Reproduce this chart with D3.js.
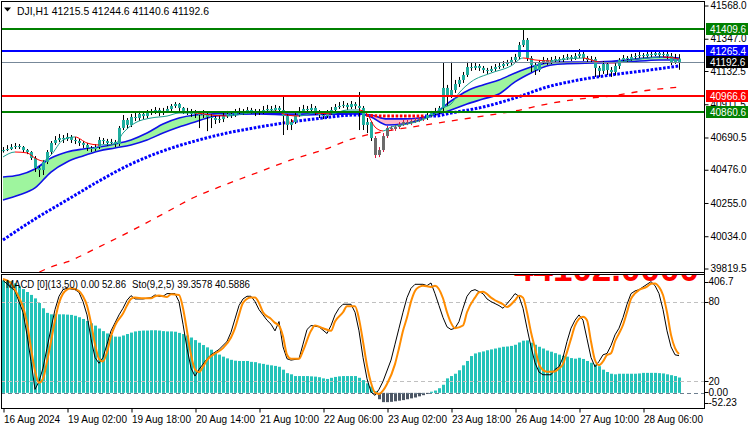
<!DOCTYPE html>
<html><head><meta charset="utf-8">
<script src="https://cdn.jsdelivr.net/npm/d3@7"></script>
<style>
body{margin:0;background:#fff;}
svg{display:block;font-family:"Liberation Sans",Arial,sans-serif;}
</style></head><body>
<svg id="chart" width="750" height="430"></svg>
<script>
// ---------------- DATA ----------------
const symbolTitle = "DJI,H1  41215.5 41244.6 41140.6 41192.6";
const macdLegend = "MACD [0](13,50) 0.00 52.86";
const stochLegend = "Sto(9,2,5) 39.3578 40.5886";
const timeLabels = ["16 Aug 2024","19 Aug 02:00","19 Aug 18:00","20 Aug 14:00","21 Aug 10:00","22 Aug 06:00","23 Aug 02:00","23 Aug 18:00","26 Aug 14:00","27 Aug 10:00","28 Aug 06:00"];
const timeTickBars = [0,16,32,48,64,80,96,112,128,144,160];
const priceTicks = [41568.0,41347.0,41132.5,40911.5,40690.5,40476.0,40255.0,40034.0,39819.5];
const levelValues = [41409.6, 41265.4, 40966.6, 40860.6];
const bidPrice = 41192.6;
const macdRange = [-52.23, 406.7];
const stochLevels = [80, 20];
const bigLabel = "44102.0000";

const opens = [40600,40607,40614,40627,40634,40627,40607,40594,40554,40488,
40474,40528,40594,40654,40674,40687,40681,40694,40674,40667,
40654,40641,40621,40614,40627,40674,40667,40654,40661,40647,
40754,40807,40774,40827,40820,40847,40833,40853,40860,40873,
40853,40867,40880,40900,40913,40887,40867,40860,40847,40853,
40840,40847,40827,40820,40807,40813,40833,40847,40840,40853,
40867,40860,40873,40867,40853,40860,40873,40880,40873,40887,
40873,40833,40774,40793,40840,40867,40880,40873,40887,40860,
40840,40833,40853,40873,40893,40900,40907,40893,40913,40900,
40887,40774,40793,40687,40574,40607,40700,40754,40747,40760,
40780,40793,40787,40800,40807,40813,40820,40840,40853,40867,
40887,41020,40973,41006,41046,41073,41106,41159,41153,41166,
41153,41139,41133,41146,41159,41166,41179,41186,41206,41226,
41305,41339,41219,41173,41139,41192,41206,41192,41206,41212,
41206,41219,41226,41219,41232,41246,41219,41206,41212,41153,
41133,41179,41139,41126,41166,41206,41219,41212,41226,41232,
41239,41232,41246,41239,41252,41239,41246,41232,41192,41215.5];
const highs = [40627,40640,40647,40654,40647,40634,40614,40600,40567,40500,
40541,40607,40667,40700,40714,40707,40720,40707,40694,40681,
40667,40654,40634,40647,40694,40687,40681,40681,40674,40767,
40840,40820,40847,40860,40867,40860,40873,40880,40893,40887,
40887,40900,40913,40926,40920,40893,40887,40880,40873,40867,
40873,40860,40847,40833,40840,40853,40867,40860,40880,40887,
40880,40893,40887,40880,40880,40900,40907,40900,40907,40900,
40960,40847,40813,40860,40893,40907,40900,40913,40900,40873,
40860,40873,40893,40913,40926,40933,40920,40933,40926,40993,
40900,40820,40800,40700,40627,40720,40767,40767,40773,40793,
40807,40807,40813,40820,40827,40833,40853,40867,40887,40900,
41186,41040,41193,41073,41093,41126,41193,41186,41186,41179,
41166,41153,41166,41179,41186,41199,41206,41226,41246,41325,
41405,41352,41232,41186,41206,41226,41219,41226,41232,41226,
41239,41246,41239,41252,41279,41259,41232,41232,41226,41166,
41199,41192,41159,41186,41219,41239,41232,41246,41252,41259,
41252,41266,41259,41272,41266,41266,41259,41252,41246,41244.6];
const lows = [40590,40600,40607,40614,40614,40594,40580,40541,40461,40428,
40441,40514,40580,40641,40661,40654,40667,40654,40647,40634,
40621,40601,40594,40601,40614,40647,40634,40641,40627,40634,
40740,40747,40760,40800,40800,40813,40820,40840,40847,40833,
40840,40853,40867,40887,40867,40847,40840,40827,40820,40753,
40820,40733,40753,40780,40787,40793,40820,40820,40827,40840,
40840,40847,40847,40833,40840,40847,40860,40853,40860,40853,
40707,40740,40740,40780,40827,40853,40853,40860,40840,40820,
40813,40820,40840,40860,40880,40887,40873,40880,40880,40740,
40740,40720,40667,40554,40560,40594,40687,40734,40734,40747,
40767,40773,40773,40787,40793,40800,40807,40827,40840,40847,
40853,40900,40953,40987,41026,41053,41093,41133,41139,41133,
41119,41113,41126,41133,41146,41153,41166,41173,41193,41212,
41292,41199,41126,41106,41126,41179,41173,41179,41192,41186,
41192,41206,41199,41206,41219,41199,41186,41192,41093,41093,
41113,41106,41093,41106,41146,41192,41192,41199,41212,41219,
41212,41219,41219,41232,41219,41226,41212,41172,41180,41140.6];
const closes = [40607,40614,40627,40634,40627,40607,40594,40554,40488,40474,
40528,40594,40654,40674,40687,40681,40694,40674,40667,40654,
40641,40621,40614,40627,40674,40667,40654,40661,40647,40754,
40807,40774,40827,40820,40847,40833,40853,40860,40873,40853,
40867,40880,40900,40913,40887,40867,40860,40847,40853,40840,
40847,40827,40820,40807,40813,40833,40847,40840,40853,40867,
40860,40873,40867,40853,40860,40873,40880,40873,40887,40873,
40833,40774,40793,40840,40867,40880,40873,40887,40860,40840,
40833,40853,40873,40893,40900,40907,40893,40913,40900,40887,
40774,40793,40687,40574,40607,40700,40754,40747,40760,40780,
40793,40787,40800,40807,40813,40820,40840,40853,40867,40887,
41020,40973,41006,41046,41073,41106,41159,41153,41166,41153,
41139,41133,41146,41159,41166,41179,41186,41206,41226,41305,
41339,41219,41173,41139,41192,41206,41192,41206,41212,41206,
41219,41226,41219,41232,41246,41219,41206,41212,41153,41133,
41179,41139,41126,41166,41206,41219,41212,41226,41232,41239,
41232,41246,41239,41252,41239,41246,41232,41192,41215.5,41192.6];
// bars painted grey by the trend filter
const greyBarsFrom = 93, greyBarsTo = 105;

// cloud (two averages) read at sample bars
const cloudIdx  = [0,4,8,12,16,20,24,28,32,36,40,44,48,52,56,64,72,80,88,92,96,100,104,108,112,116,120,124,128,132,136,140,148,156,164,169];
const cloudFast = [40428,40441,40481,40554,40594,40614,40627,40647,40674,40720,40780,40820,40840,40847,40853,40853,40847,40850,40853,40827,40774,40780,40807,40853,40933,41000,41040,41073,41119,41159,41186,41192,41192,41206,41226,41219];
const cloudSlow = [40275,40308,40355,40461,40528,40568,40601,40621,40641,40674,40720,40760,40794,40827,40840,40847,40840,40843,40847,40840,40814,40814,40820,40840,40873,40913,40946,40980,41060,41119,41166,41179,41186,41192,41206,41206];
// short moving average
const maFastIdx = [0,3,6,8,10,12,15,18,21,24,28,30,33,37,41,44,48,52,56,60,64,68,71,74,78,82,86,89,91,93,95,97,100,104,108,110,112,114,117,122,127,130,133,137,141,145,149,153,157,161,165,169];
const maFast    = [40561,40594,40588,40554,40534,40574,40674,40694,40654,40641,40647,40720,40787,40820,40833,40853,40853,40840,40833,40847,40860,40867,40840,40833,40853,40847,40873,40873,40847,40760,40734,40760,40774,40800,40847,40887,40913,40986,41060,41119,41166,41219,41206,41199,41212,41219,41192,41186,41206,41219,41226,41212];
// dotted moving average
const maDotIdx = [0,8,16,24,32,40,48,56,64,72,80,88,96,104,108,112,120,128,136,144,152,160,169];
const maDot    = [40009,40149,40275,40401,40514,40601,40667,40720,40760,40794,40820,40840,40833,40833,40833,40853,40893,40953,41026,41073,41106,41133,41166];
// dash-dot long moving average
const maDashIdx = [0,8,12,16,24,32,40,48,56,64,72,80,88,96,104,112,120,128,136,144,152,160,169];
const maDash    = [39703,39783,39830,39863,39963,40069,40182,40295,40381,40461,40541,40607,40687,40734,40767,40800,40833,40867,40913,40946,40966,41000,41026];

// MACD histogram, one per bar
const macdHist = [388,388,385,378,368,358,348,338,326,310,
292,276,271,271,271,271,270,269,266,261,
255,248,240,232,222,213,205,199,194,194,
198,203,208,212,214,215,215,216,216,215,
213,212,212,211,207,203,198,191,182,173,
165,157,149,140,132,125,119,114,111,110,
110,110,107,106,102,100,97,95,93,90,
80,68,64,58,58,58,58,57,56,54,
50,48,52,55,57,58,58,58,58,52,
44,33,22,6,-22,-32,-32,-31,-29,-27,
-25,-22,-19,-16,-12,-8,-4,4,8,16,
28,50,58,66,78,95,110,127,136,140,
143,147,150,153,156,159,160,162,166,174,
180,181,173,166,159,153,146,142,137,132,
128,125,120,118,121,117,110,104,98,92,
80,72,66,64,66,66,66,66,66,67,
69,69,69,69,68,67,64,61,58,52.86];

// Stochastic main (K) and signal (D): [bar, value]
const stochK = [[0,96],[3,88],[5,72],[6,55],[7,35],[8,14],[9,20],[10,30],[11,45],[12,60],[13,74],[14,84],[15,89],[16,90],[18,89],[19,87],[20,80],[21,70],[22,52],[23,38],[24,33.6],[25,38],[26,48],[27,58],[28,64],[29,70],[30,75],[31,81],[32,84.5],[33,82],[35,82],[37,83],[38,85],[39,84],[40,84],[41,86],[43,86],[44,80],[45,63],[46,45],[47,30],[48,24],[49,29],[50,33],[51,37],[52,40],[54,44],[56,50],[57,57],[58,67],[59,77],[60,82],[61,84],[62,84],[63,80],[64,74],[65,70],[66,66],[67,63],[68,58],[69,65],[70,46],[71,37],[72,36],[74,37],[75,48],[76,59],[77,62],[79,61],[81,56],[82,62],[83,70],[84,75],[85,78],[87,78],[88,72],[89,58],[90,38],[91,22],[92,12],[93,9.5],[94,14],[95,20],[97,36],[98,48],[99,60],[100,72],[101,83],[102,90],[103,93],[105,93],[106,92],[107,94],[108,86],[109,77],[110,68],[111,61],[112,59],[113,60],[114,65],[115,75],[116,84],[117,88],[118,89],[120,86],[121,82],[122,80],[124,77],[125,75],[127,82],[128,86],[129,84],[130,75],[131,60],[132,46],[133,34],[134,27],[135,25],[137,25],[138,29],[139,31],[140,38],[141,50],[142,60],[143,66],[144,70],[145,66],[146,52],[147,38],[148,31],[149,35],[150,40],[151,41],[152,47],[153,55],[154,60],[155,68],[156,78],[157,86],[158,88],[159,89],[160,91],[161,93],[162,95],[163,92],[164,86],[165,74],[166,58],[167,46],[168,40],[169,39.3578]];
const stochD = [[0,97],[2,94],[3,89],[4,83],[5,76],[6,64],[7,45],[8,28],[9,19],[10,22],[11,35],[12,50],[13,66],[14,79],[15,86],[16,89],[17,90],[19,88],[20,84],[21,77],[22,64],[23,48],[24,37],[25,35],[26,42],[27,54],[28,62],[30,71],[31,77],[32,82],[33,83],[35,82.5],[37,82.5],[38,84],[39,84.5],[41,83.5],[42,85.5],[44,85],[45,75],[46,58],[47,40],[48,29],[49,27],[50,31],[51,36],[53,41],[55,45],[57,53],[58,60],[59,70],[60,79],[62,83],[63,83],[64,79],[65,72],[67,67],[68,64],[69,62],[70,54],[71,40],[72,37],[74,37],[75,43],[77,58],[78,62],[80,60],[82,58],[83,65],[85,72],[86,76.5],[88,76.5],[89,67],[90,50],[91,32],[92,19],[93,11.5],[94,10.5],[95,13],[96,18],[98,33],[99,45],[100,58],[101,68],[102,80],[103,88],[104,91],[105,92],[107,91],[108,92],[110,82.5],[111,72],[112,64],[113,60],[115,62],[116,72],[118,83],[119,87],[120,87.5],[122,83],[123,81],[125,78],[126,76],[128,81],[129,84.4],[130,83],[131,72],[132,57],[133,45],[134,33],[135,28.5],[136,27.3],[138,27.5],[139,29.8],[140,33],[141,42],[142,52],[143,62],[144,67],[145,68.7],[146,66],[147,50],[148,36],[149,32.3],[150,35],[151,39.8],[152,41.1],[153,50],[154,56],[155,62.4],[156,72],[157,82],[158,86.2],[159,88.7],[161,91.2],[162,93.5],[163,93.7],[164,91],[165,85],[166,72],[167,55],[168,45],[169,40.5886]];

// ---------------- LAYOUT ----------------
const X0 = 1, X1 = 704, M0 = 1, M1 = 272, S0 = 274, S1 = 408;
const svg = d3.select("#chart");
const defs = svg.append("defs");
const n = closes.length;

const x = d3.scaleLinear().domain([0, n - 1]).range([3, 3 + 4 * (n - 1)]);
const y = d3.scaleLinear().domain([39819.5, 41568.0]).range([268.5, 5.5]);
const yM = d3.scaleLinear().domain(macdRange).range([S1, S0 + 1]);
const yS = d3.scaleLinear().domain([0, 100]).range([S1, S0 + 1]);

svg.append("rect").attr("width", 750).attr("height", 430).attr("fill", "#fff");

defs.append("clipPath").attr("id", "clipMain").append("rect")
  .attr("x", X0).attr("y", M0).attr("width", X1 - X0).attr("height", M1 - M0);
defs.append("clipPath").attr("id", "clipSub").append("rect")
  .attr("x", X0).attr("y", S0 + 1).attr("width", X1 - X0).attr("height", S1 - S0 - 1);

const main = svg.append("g").attr("clip-path", "url(#clipMain)");
const curve = d3.curveMonotoneX;

// ---- cloud ----
const cloud = cloudIdx.map((b, k) => ({ b, f: cloudFast[k], s: cloudSlow[k] }));
const belowFast = d3.area().x(d => x(d.b)).y0(d => y(d.f)).y1(M1 + 30).curve(curve);
const aboveSlow = d3.area().x(d => x(d.b)).y0(M0 - 30).y1(d => y(d.s)).curve(curve);
const belowSlow = d3.area().x(d => x(d.b)).y0(d => y(d.s)).y1(M1 + 30).curve(curve);
const aboveFast = d3.area().x(d => x(d.b)).y0(M0 - 30).y1(d => y(d.f)).curve(curve);
defs.append("clipPath").attr("id", "cBelowFast").append("path").attr("d", belowFast(cloud));
defs.append("clipPath").attr("id", "cBelowSlow").append("path").attr("d", belowSlow(cloud));
main.append("g").attr("clip-path", "url(#cBelowFast)")
  .append("path").attr("d", aboveSlow(cloud)).attr("fill", "#9ef59e");
main.append("g").attr("clip-path", "url(#cBelowSlow)")
  .append("path").attr("d", aboveFast(cloud)).attr("fill", "#ffb6c8");
const lineF = d3.line().x(d => x(d.b)).y(d => y(d.f)).curve(curve);
const lineS = d3.line().x(d => x(d.b)).y(d => y(d.s)).curve(curve);
main.append("path").attr("d", lineS(cloud)).attr("fill", "none").attr("stroke", "#1010e8").attr("stroke-width", 1.6);
main.append("path").attr("d", lineF(cloud)).attr("fill", "none").attr("stroke", "#1010e8").attr("stroke-width", 1.6);

// ---- long dash-dot MA ----
const dashPts = maDashIdx.map((b, k) => [x(b), y(maDash[k])]);
main.append("path").attr("d", d3.line().curve(curve)(dashPts))
  .attr("fill", "none").attr("stroke", "#ff0000").attr("stroke-width", 1.3)
  .attr("stroke-dasharray", "6,7");

// ---- dotted MA (blue above price, red when price below) ----
const maDotAt = d3.scaleLinear().domain(maDotIdx).range(maDot);
const dotPts = maDotIdx.map((b, k) => [x(b), y(maDot[k])]);
const dotPath = d3.line().curve(curve)(dotPts);
const barIdx = d3.range(n);
const redBars = barIdx.filter(i => closes[i] < maDotAt(i));
const blueBars = barIdx.filter(i => closes[i] >= maDotAt(i));
defs.append("clipPath").attr("id", "cDotRed").selectAll("rect").data(redBars).join("rect")
  .attr("x", i => x(i) - 2).attr("width", 4).attr("y", 0).attr("height", 430);
defs.append("clipPath").attr("id", "cDotBlue").selectAll("rect").data(blueBars).join("rect")
  .attr("x", i => (i === 0 ? 0 : x(i) - 2)).attr("width", i => (i === 0 ? x(0) + 2 : 4)).attr("y", 0).attr("height", 430);
main.append("g").attr("clip-path", "url(#cDotBlue)").append("path").attr("d", dotPath)
  .attr("fill", "none").attr("stroke", "#0000ff").attr("stroke-width", 3).attr("stroke-dasharray", "2.6,1.6");
main.append("g").attr("clip-path", "url(#cDotRed)").append("path").attr("d", dotPath)
  .attr("fill", "none").attr("stroke", "#ff0000").attr("stroke-width", 3).attr("stroke-dasharray", "2.6,1.6");

// ---- candles ----
const bars = barIdx.map(i => ({ i, o: opens[i], h: highs[i], l: lows[i], c: closes[i],
  grey: i >= greyBarsFrom && i <= greyBarsTo }));
const cg = main.append("g");
cg.selectAll("line.wick").data(bars).join("line").attr("class", "wick")
  .attr("x1", d => x(d.i) + 0.5).attr("x2", d => x(d.i) + 0.5)
  .attr("y1", d => y(d.h)).attr("y2", d => y(d.l))
  .attr("stroke", d => d.grey ? "#dc143c" : "#000").attr("stroke-width", 1);
cg.selectAll("rect.body").data(bars).join("rect").attr("class", "body")
  .attr("x", d => x(d.i) - 1).attr("width", 3)
  .attr("y", d => y(Math.max(d.o, d.c)))
  .attr("height", d => Math.max(1, Math.abs(y(d.o) - y(d.c))))
  .attr("fill", d => d.grey ? "#6b6b6b" : "#1fae9f");

// ---- short MA, teal when rising, red when falling ----
const fastPts = maFastIdx.map((b, k) => [x(b), y(maFast[k])]);
const fastPath = d3.line().curve(curve)(fastPts);
const segs = d3.range(maFastIdx.length - 1).map(k => ({ a: maFastIdx[k], b: maFastIdx[k + 1], down: maFast[k + 1] < maFast[k] }));
defs.append("clipPath").attr("id", "cMaRed").selectAll("rect").data(segs.filter(s => s.down)).join("rect")
  .attr("x", s => x(s.a)).attr("width", s => x(s.b) - x(s.a)).attr("y", 0).attr("height", 430);
defs.append("clipPath").attr("id", "cMaTeal").selectAll("rect").data(segs.filter(s => !s.down)).join("rect")
  .attr("x", s => x(s.a)).attr("width", s => x(s.b) - x(s.a)).attr("y", 0).attr("height", 430);
main.append("g").attr("clip-path", "url(#cMaTeal)").append("path").attr("d", fastPath)
  .attr("fill", "none").attr("stroke", "#1a9e8f").attr("stroke-width", 1);
main.append("g").attr("clip-path", "url(#cMaRed)").append("path").attr("d", fastPath)
  .attr("fill", "none").attr("stroke", "#ff0000").attr("stroke-width", 1);

// ---- horizontal levels ----
const levelColors = ["#008000", "#0000ff", "#ff0000", "#008000"];
main.append("line").attr("x1", X0).attr("x2", X1).attr("y1", Math.round(y(bidPrice)) + 0.5).attr("y2", Math.round(y(bidPrice)) + 0.5)
  .attr("stroke", "#778899").attr("stroke-width", 1);
main.selectAll("line.level").data(levelValues).join("line").attr("class", "level")
  .attr("x1", X0).attr("x2", X1).attr("y1", d => Math.round(y(d))).attr("y2", d => Math.round(y(d)))
  .attr("stroke", (d, k) => levelColors[k]).attr("stroke-width", 2);

// ---- title ----
svg.append("path").attr("d", "M4,7.5 L11,7.5 L7.5,11.5 Z").attr("fill", "#000");
svg.append("text").attr("x", 17).attr("y", 14.5).attr("font-size", 10.4).attr("fill", "#000").text(symbolTitle);

// ---------------- SUB WINDOW ----------------
const sub = svg.append("g").attr("clip-path", "url(#clipSub)");
// big red clipped label
sub.append("text").attr("x", 514).attr("y", 280.5).attr("font-size", 35).attr("font-weight", "bold")
  .attr("fill", "#ff0000").text(bigLabel);
// histogram
sub.selectAll("rect.h").data(macdHist).join("rect").attr("class", "h")
  .attr("x", (v, i) => x(i) - 1).attr("width", 3)
  .attr("y", v => Math.min(yM(v), yM(0))).attr("height", v => Math.max(1, Math.abs(yM(v) - yM(0))))
  .attr("fill", v => v >= 0 ? "#24c3b9" : "#4c5664");
// level lines
sub.selectAll("line.sl").data(stochLevels).join("line").attr("class", "sl")
  .attr("x1", X0).attr("x2", X1).attr("y1", d => Math.round(yS(d)) + 0.5).attr("y2", d => Math.round(yS(d)) + 0.5)
  .attr("stroke", "#c0c0c0").attr("stroke-dasharray", "4,3");
sub.append("line").attr("x1", X0).attr("x2", X1).attr("y1", Math.round(yM(0)) + 0.5).attr("y2", Math.round(yM(0)) + 0.5)
  .attr("stroke", "#6e7f8f").attr("stroke-dasharray", "4,3");
// stochastic
sub.append("path").attr("d", d3.line().x(d => x(d[0])).y(d => yS(d[1]))(stochK))
  .attr("fill", "none").attr("stroke", "#000").attr("stroke-width", 1);
sub.append("path").attr("d", d3.line().x(d => x(d[0])).y(d => yS(d[1])).curve(curve)(stochD))
  .attr("fill", "none").attr("stroke", "#ff8c00").attr("stroke-width", 2);
// legend
svg.append("text").attr("x", 6).attr("y", 288).attr("font-size", 10).attr("fill", "#000")
  .attr("textLength", 120).attr("lengthAdjust", "spacingAndGlyphs").text(macdLegend);
svg.append("text").attr("x", 132).attr("y", 288).attr("font-size", 10).attr("fill", "#000")
  .attr("textLength", 118).attr("lengthAdjust", "spacingAndGlyphs").text(stochLegend);

// ---------------- FRAMES & AXES ----------------
svg.append("rect").attr("x", X0 + 0.5).attr("y", M0 + 0.5).attr("width", X1 - X0).attr("height", M1 - M0)
  .attr("fill", "none").attr("stroke", "#000");
svg.append("rect").attr("x", X0 + 0.5).attr("y", S0 + 0.5).attr("width", X1 - X0).attr("height", S1 - S0)
  .attr("fill", "none").attr("stroke", "#000");

const yAxis = d3.axisRight(y).tickValues(priceTicks).tickSize(4).tickSizeOuter(0).tickFormat(d3.format(".1f"));
const gy = svg.append("g").attr("transform", `translate(${X1 + 0.5},0)`).call(yAxis);
gy.select(".domain").remove();
gy.selectAll("text").attr("font-size", 10).attr("font-family", "Liberation Sans, Arial, sans-serif").attr("x", 6).attr("fill", "#000");
gy.selectAll("line").attr("stroke", "#000");

// level price boxes
const boxVals = [levelValues[0], levelValues[1], bidPrice, levelValues[2], levelValues[3]];
const boxCols = ["#008000", "#0000ff", "#000000", "#ff0000", "#008000"];
const gb = svg.append("g");
gb.selectAll("rect").data(boxVals).join("rect")
  .attr("x", X1 + 2).attr("width", 42).attr("y", d => Math.round(y(d)) - 6).attr("height", 12)
  .attr("fill", (d, k) => boxCols[k]);
gb.selectAll("text").data(boxVals).join("text")
  .attr("x", X1 + 6).attr("y", d => Math.round(y(d)) + 3.8).attr("font-size", 10).attr("fill", "#fff")
  .text(d => d3.format(".1f")(d));

// sub-window axis
const gs = svg.append("g").attr("transform", `translate(${X1 + 0.5},0)`);
const subTicks = [
  { t: "406.7", y: yM(macdRange[1]) + 6.5 },
  { t: "80", y: yS(80) },
  { t: "20", y: yS(20) },
  { t: "0.00", y: yM(0) - 0.5 },
  { t: "-52.23", y: yM(macdRange[0]) - 5 }
];
gs.selectAll("line").data(subTicks).join("line").attr("x1", 0).attr("x2", 4)
  .attr("y1", d => Math.round(d.y) + 0.5).attr("y2", d => Math.round(d.y) + 0.5).attr("stroke", "#000");
gs.selectAll("text").data(subTicks).join("text").attr("x", 4).attr("y", d => d.y).attr("dy", "0.34em")
  .attr("font-size", 10).attr("fill", "#000").text(d => d.t);

// time axis
const xAxis = d3.axisBottom(x).tickValues(timeTickBars).tickSize(4).tickSizeOuter(0)
  .tickFormat((d, k) => timeLabels[k]);
const gx = svg.append("g").attr("transform", `translate(0.5,${S1 + 0.5})`).call(xAxis);
gx.select(".domain").remove();
gx.selectAll("line").attr("stroke", "#000");
gx.selectAll("text").attr("text-anchor", "start").attr("x", 0).attr("font-size", 10)
  .attr("font-family", "Liberation Sans, Arial, sans-serif").attr("fill", "#000");

// right vertical axis line
svg.append("line").attr("x1", X1 + 0.5).attr("x2", X1 + 0.5).attr("y1", M0).attr("y2", S1 + 1).attr("stroke", "#000");
</script>
</body></html>
